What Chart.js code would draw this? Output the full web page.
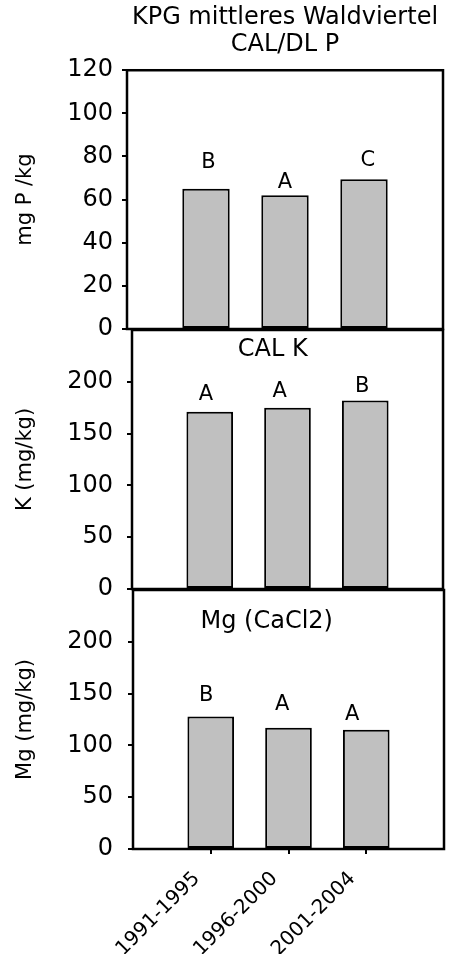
<!DOCTYPE html>
<html>
<head>
<meta charset="utf-8">
<script src="https://cdn.jsdelivr.net/npm/chart.js@4.4.1/dist/chart.umd.min.js"></script>
<style>
  html, body { margin: 0; padding: 0; background: #fff; }
  #wrap { position: relative; width: 458px; height: 954px; overflow: hidden; }
  .panel { position: absolute; left: 0; width: 458px; }
</style>
</head>
<body>
<div id="wrap">
  <div class="panel" style="top:0;height:364px"><canvas id="cP"></canvas></div>
  <div class="panel" style="top:295px;height:329px"><canvas id="cK"></canvas></div>
  <div class="panel" style="top:555px;height:399px"><canvas id="cMg"></canvas></div>
</div>
<script>
// periods on the x axis
const periods = ['1991-1995', '1996-2000', '2001-2004'];

// values
const pValues = [65, 62, 69.5];
const kValues = [171, 175, 182];
const mgValues = [128, 117, 115];

// letters of the significance groups
const pLetters = ['B', 'A', 'C'];
const kLetters = ['A', 'A', 'B'];
const mgLetters = ['B', 'A', 'A'];

// y tick labels
const pTicks = [0, 20, 40, 60, 80, 100, 120];
const kTicks = [0, 50, 100, 150, 200];
const mgTicks = [0, 50, 100, 150, 200];

Chart.defaults.font.family = '"DejaVu Sans", sans-serif';
Chart.defaults.color = '#000';

// frame around the plot, letters above the bars and the small panel title
const panelDecor = {
  id: 'panelDecor',
  afterDatasetsDraw(chart, args, opts) {
    const { ctx, chartArea: a, scales: { x, y } } = chart;
    ctx.save();
    ctx.strokeStyle = '#000';
    ctx.lineWidth = 2.5;
    ctx.strokeRect(a.left, a.top, a.right - a.left, a.bottom - a.top);
    ctx.fillStyle = '#000';
    ctx.textAlign = 'center';
    ctx.textBaseline = 'middle';
    ctx.font = '21px "DejaVu Sans"';
    opts.letters.forEach((t, i) => {
      ctx.fillText(t, x.getPixelForValue(i + 1 + opts.letterDx[i]), y.getPixelForValue(opts.letterY[i]));
    });
    if (opts.title) {
      ctx.font = '24px "DejaVu Sans"';
      ctx.fillText(opts.title, x.getPixelForValue(opts.titleAt[0]), y.getPixelForValue(opts.titleAt[1]));
    }
    ctx.restore();
  }
};

function yScale(max, ticks, title, width, pad) {
  return {
    min: 0,
    max: max,
    afterBuildTicks: s => { s.ticks = ticks.map(v => ({ value: v })); },
    afterFit: s => { s.width = width; },
    border: { display: false },
    grid: { drawOnChartArea: false, tickLength: 5, color: '#000', lineWidth: 2 },
    ticks: { color: '#000', font: { size: 24 }, padding: pad },
    title: { display: true, text: title, color: '#000', font: { size: 21 }, padding: { top: 13, bottom: 0 } }
  };
}

function xScale(show) {
  return {
    type: 'linear',
    min: 0,
    max: 4,
    offset: false,
    display: show,
    afterBuildTicks: s => { s.ticks = periods.map((p, i) => ({ value: i + 1 })); },
    afterFit: s => { if (show) s.height = 105; },
    border: { display: false },
    grid: { drawOnChartArea: false, offset: false, tickLength: 5, color: '#000', lineWidth: 2 },
    ticks: {
      color: '#000', font: { size: 20 }, autoSkip: false,
      maxRotation: 45, minRotation: 45, padding: 13, labelOffset: -14,
      callback: v => periods[v - 1]
    }
  };
}

function makePanel(id, values, opts) {
  return new Chart(document.getElementById(id), {
    type: 'bar',
    data: {
      datasets: [{
        data: values.map((v, i) => ({ x: i + 1, y: v })),
        backgroundColor: '#c0c0c0',
        borderColor: '#000',
        borderWidth: 2,
        borderSkipped: false,
        barPercentage: 0.6,
        categoryPercentage: 1
      }]
    },
    options: {
      responsive: true,
      maintainAspectRatio: false,
      animation: false,
      layout: { padding: opts.padding },
      scales: {
        x: xScale(opts.showX),
        y: yScale(opts.max, opts.ticks, opts.yTitle, opts.axisWidth, opts.tickPad)
      },
      plugins: {
        legend: { display: false },
        tooltip: { enabled: false },
        title: opts.mainTitle ? {
          display: true, text: opts.mainTitle, color: '#000', fullSize: false,
          font: { size: 24, weight: 'normal', lineHeight: 1.13 },
          padding: { top: 4, bottom: 12 }
        } : { display: false },
        panelDecor: opts.decor
      }
    },
    plugins: [panelDecor]
  });
}

makePanel('cP', pValues, {
  showX: false, max: 120, ticks: pTicks, yTitle: 'mg P /kg', axisWidth: 127, tickPad: 9,
  padding: { left: 0, right: 15, top: 0, bottom: 35 },
  mainTitle: ['KPG mittleres Waldviertel', 'CAL/DL P'],
  decor: { letters: pLetters, letterDx: [0.03, 0, 0.05], letterY: [77.4, 68, 78.3] }
});

makePanel('cK', kValues, {
  showX: false, max: 250, ticks: kTicks, yTitle: 'K (mg/kg)', axisWidth: 132, tickPad: 14,
  padding: { left: 0, right: 15, top: 35, bottom: 35 },
  decor: { letters: kLetters, letterDx: [-0.05, -0.1, -0.04], letterY: [187.5, 190.4, 195.5],
           title: 'CAL K', titleAt: [1.81, 230.7] }
});

makePanel('cMg', mgValues, {
  showX: true, max: 250, ticks: mgTicks, yTitle: 'Mg (mg/kg)', axisWidth: 133, tickPad: 15,
  padding: { left: 0, right: 14, top: 35, bottom: 0 },
  decor: { letters: mgLetters, letterDx: [-0.06, -0.08, -0.18], letterY: [147.7, 139.4, 130],
           title: 'Mg (CaCl2)', titleAt: [1.72, 219] }
});
</script>
</body>
</html>
